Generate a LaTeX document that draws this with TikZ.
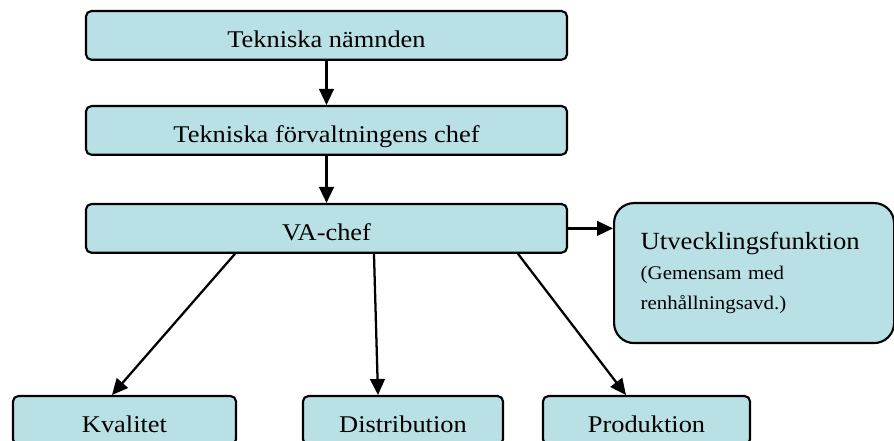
\documentclass[tikz,border=0pt]{standalone}
\usepackage{fontspec}
\setmainfont{Liberation Serif}
\newfontfamily\boxfont[FakeStretch=1.1]{Liberation Serif}
\newfontfamily\sidefont[FakeStretch=1.08]{Liberation Serif}
\usetikzlibrary{arrows, arrows.meta}
\usetikzlibrary{calc}
\definecolor{boxblue}{RGB}{185,224,228}

\begin{document}
\begin{tikzpicture}[x=0.75pt, y=-0.75pt,
    orgbox/.style={rectangle, draw, fill=boxblue, line width=1.6pt, rounded corners=4pt, inner sep=0pt, text height=27.5pt, text depth=9pt, anchor=north, font=\boxfont\fontsize{18pt}{21pt}\selectfont},
    arr/.style={line width=1.7pt, -{Triangle[length=12pt, width=11pt]}}]
      \useasboundingbox (0,0) rectangle (894,441);

      \node[orgbox, minimum width=360.75pt] (nam) at (326.5,10) {Tekniska nämnden};
      \node[orgbox, minimum width=360.75pt] (forv) at (326.5,105) {Tekniska förvaltningens chef};
      \node[orgbox, minimum width=360.75pt] (va) at (326.5,203) {VA-chef};
      \node[orgbox, minimum width=167.25pt] (kval) at (124.5,395) {Kvalitet};
      \node[orgbox, minimum width=150pt] (dist) at (403,395) {Distribution};
      \node[orgbox, minimum width=155.25pt] (prod) at (646.5,395) {Produktion};
      \node[rectangle, draw, fill=boxblue, line width=1.6pt, rounded corners=15pt, anchor=north west, minimum width=210pt, minimum height=105pt, inner xsep=20pt, text width=170pt, align=left, font=\sidefont\fontsize{14.5pt}{22.5pt}\selectfont] (utv) at (613,202) {{\fontsize{18.5pt}{22.5pt}\selectfont Utvecklingsfunktion}\\(Gemensam med\\renhållningsavd.)};

      \draw[arr] (nam) -- (forv);
      \draw[arr] (forv) -- (va);
      \draw[arr] (va.east) -- (va.east -| utv.west);
      \draw[arr] ([xshift=-68.6pt]va.south) -- ([xshift=-9.4pt]kval.north);
      \draw[arr] ([xshift=35.6pt]va.south) -- ([xshift=-18.75pt]dist.north);
      \draw[arr] ([xshift=143.6pt]va.south) -- ([xshift=-15.4pt]prod.north);
\end{tikzpicture}
\end{document}
